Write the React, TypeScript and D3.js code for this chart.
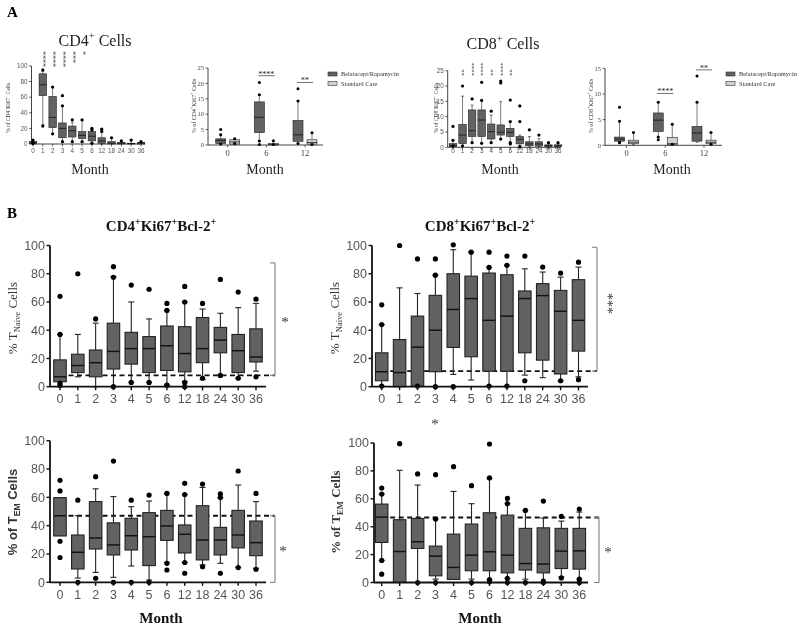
import React from "react";
import * as d3 from "d3";

const months = ["0", "1", "2", "3", "4", "5", "6", "12", "18", "24", "30", "36"];
const groupMonths = ["0", "6", "12"];
const groupNames = ["Belatacept/Rapamycin", "Standard Care"];

// each box: [whiskerLow, q1, median, q3, whiskerHigh]
const cd4Box = [
  [0, 0.5, 1.5, 3, 4], [25, 62, 76, 90, 93], [13, 21, 34, 61, 73], [3, 8, 20, 27, 49],
  [3, 9, 17, 23, 28], [3, 7, 11, 16, 30], [1, 4, 10, 16, 20], [0, 1, 4, 8, 16],
  [0, 0, 1, 3, 7], [0, 0, 1, 2, 4], [0, 0, 0.5, 1, 5], [0, 0, 1, 2, 3],
];
const cd4Dots = [[2, 5, 0.5], [95, 23], [73, 13], [62, 49, 3], [31, 3], [31, 3], [20, 18, 1], [19, 16], [8], [4], [5], [3]];
const cd4Stars = ["", "****", "****", "****", "***", "*", "", "", "", "", "", ""];

const cd4Bela = [[0.3, 0.5, 1.5, 2, 3.5], [1.3, 4, 9, 14, 16.3], [0.5, 1.2, 3.3, 8, 14.3]];
const cd4BelaDots = [[5, 3.3, 0.3], [20.3, 16.3, 1.3, 0.2], [18.3, 14.3, 0.5]];
const cd4Std = [[0.2, 0.3, 1, 1.7, 2], [0, 0, 0.2, 0.5, 1.4], [0.2, 0.3, 0.8, 1.7, 4]];
const cd4StdDots = [[2, 0.5], [1.4, 0.2], [4, 0.2]];
const cd4GroupSig = [["6", "****", 22.5], ["12", "**", 20.3]];

const cd8Box = [
  [0, 0.2, 0.6, 1.2, 2.3], [0.5, 1.2, 4, 7.5, 16.7], [1.5, 3.5, 5.4, 12.2, 13.8], [1.3, 3.5, 8.9, 12.2, 15.3],
  [1.5, 2.7, 5.1, 7.6, 10.5], [2.7, 4, 4.9, 7.3, 14.9], [1.4, 3.5, 4.9, 6.2, 8.4], [0.5, 1.1, 2.6, 3.5, 4],
  [0.2, 0.5, 1.1, 1.8, 3.5], [0.2, 0.4, 1.1, 1.8, 2.8], [0, 0.2, 0.5, 0.8, 1.2], [0, 0.2, 0.5, 0.8, 1.2],
];
const cd8Dots = [[6.8, 2.3, 0.5], [20, 0.5], [15.8, 1.5], [21.2, 15.3, 1.3], [11.8, 1.5], [21.6, 21, 2.7], [15.4, 8.4, 1.5, 1.1], [13.5, 8.4, 0.2], [5.7], [4], [1.5], [1.5]];
const cd8Stars = ["", "**", "****", "****", "**", "****", "**", "", "", "", "", ""];

const cd8Bela = [[0.5, 0.8, 1.2, 1.6, 4.7], [1.6, 2.7, 4.9, 6.3, 8.4], [0.6, 0.8, 2.4, 3.7, 8.4]];
const cd8BelaDots = [[7.4, 4.7, 0.6, 0.5], [8.4, 1.6, 1.1], [13.5, 8.4]];
const cd8Std = [[0.1, 0.3, 0.6, 1.0, 2.5], [0, 0.1, 0.3, 1.5, 4.1], [0.2, 0.3, 0.6, 1.0, 2.5]];
const cd8StdDots = [[2.5], [4.1, 0.2], [2.5, 0.2]];
const cd8GroupSig = [["6", "****", 10.1], ["12", "**", 14.7]];

const cd4NaiveBox = [
  [0, 3.5, 7, 19, 37], [7, 10, 15, 23, 37], [0, 7, 17, 26, 45], [0, 12.5, 25, 45, 78],
  [3, 16, 27, 38.5, 60], [3, 10, 27, 35.5, 48], [0.5, 11.5, 29, 43, 54], [3.5, 10.5, 23.5, 42.5, 60],
  [5, 17, 27, 49, 55], [8, 24, 33, 42, 52], [6, 10, 25.5, 37, 56], [11, 17.5, 21, 41, 59],
];
const cd4NaiveDots = [[64, 37, 1, 2.5], [80], [48], [85, 77.5, 0], [72, 3], [69, 3], [59, 54, 1, 1.2], [71, 60, 0, 3], [59, 6], [76, 8], [67, 6], [62, 7]];

const cd8NaiveBox = [
  [0.5, 4.2, 10.6, 24, 44], [0, 0, 10, 33.4, 70], [0.5, 0.5, 28, 50, 66], [0, 10.6, 40, 64.7, 79],
  [8.7, 27.8, 54.7, 80, 97], [4.7, 21.2, 62.4, 78.3, 95.3], [0.5, 11, 47, 80.5, 84.5], [0.5, 11, 50, 79.3, 86],
  [8.2, 24, 62.4, 67.8, 83.5], [6.4, 18.8, 64.5, 73, 81.2], [4.2, 9, 53.4, 68.2, 77.6], [7, 25.2, 47, 75.8, 84.7],
];
const cd8NaiveDots = [[58, 44, 0.5], [100], [90.5, 0.5], [90.5, 79, 0], [100.5, 0], [95.3], [95.3, 84.5, 0.5], [92.5, 86, 0.5], [92.5, 4.2], [84.7], [80.5, 4.2], [88.2, 5]];

const cd4EmBox = [
  [32.7, 32.7, 47, 59.8, 59.8], [3, 9.4, 21.2, 33.4, 47], [7, 23.5, 31.3, 57, 66], [3.5, 19.3, 26.4, 42, 60.5],
  [11.5, 22.8, 32.9, 45.2, 53.4], [1.6, 11.8, 32.2, 49.2, 57.4], [14, 29.6, 39.8, 50.8, 62.8], [14, 20.7, 33.9, 40.5, 62],
  [12.2, 15.8, 29.9, 54.1, 67], [13.4, 19.3, 29.9, 38.8, 59.8], [10.6, 24.3, 33.4, 50.8, 68.7], [9.9, 18.8, 28, 43.3, 57],
];
const cd4EmDots = [[72, 64.5, 29, 17.5], [58, 0], [74.6, 2.8], [85.6, 0], [58, 0], [61.6, 0], [62.8, 13.4, 8.7], [69.9, 62, 14, 6.4], [69.4, 11], [62.4, 59.8, 6.4], [78.6, 10.4], [62.8, 9.2]];

const cd8EmBox = [
  [15.8, 28.7, 46.9, 56.2, 63.4], [0, 0, 22.2, 45, 80.4], [0, 24.4, 29.2, 45.9, 69.9], [2.4, 4.8, 18.9, 26.1, 45.5],
  [2.2, 2.2, 10.8, 34.7, 65.3], [2.4, 8.4, 19.6, 41.9, 56.5], [2, 8.4, 22, 50, 74.6], [2.9, 6.9, 19.6, 48.3, 56.5],
  [2.4, 8.9, 13.6, 38.8, 51.7], [0, 6.9, 13.2, 39.2, 46.2], [4, 10, 22.5, 38.8, 44], [2.4, 9.6, 22.7, 38.8, 50.5],
];
const cd8EmDots = [[67.7, 63.4, 15.8, 6], [99.5], [77.8, 0], [77.3, 45.5, 0], [83], [69.4, 0], [99.3, 75, 0.5, 2], [60.3, 56.5, 0, 2.9], [51.7, 0], [58.4, 0, 1], [47.4, 3.3], [52.6, 2.4, 0]];

const ticks100 = [0, 20, 40, 60, 80, 100];
const ticks25 = [0, 5, 10, 15, 20, 25];
const ticks15 = [0, 5, 10, 15];

const serif = "'Liberation Serif', 'Times New Roman', serif";
const sans = "'Liberation Sans', Arial, sans-serif";
const DARK = "#626262";
const LIGHT = "#d2d2d2";

// parts: [text, kind] kind 0 = normal, 1 = superscript, 2 = subscript
function Rich({ parts, size }: any) {
  let level = 0;
  return (
    <>
      {parts.map((p: any, i: number) => {
        const [t, kind] = p;
        const target = kind === 1 ? -size * 0.42 : kind === 2 ? size * 0.25 : 0;
        const dy = target - level;
        level = target;
        return (
          <tspan key={i} dy={dy} fontSize={kind ? size * 0.66 : size}>
            {t}
          </tspan>
        );
      })}
    </>
  );
}

function Boxes({ xs, y, boxes, dots, w, fill, r, cap, sw }: any) {
  return (
    <g>
      {boxes.map((b: number[], i: number) => {
        const cx = xs[i];
        const [lo, q1, md, q3, hi] = b;
        return (
          <g key={i}>
            {hi > q3 && <line x1={cx} x2={cx} y1={y(hi)} y2={y(q3)} stroke="#222" strokeWidth={sw} />}
            {lo < q1 && <line x1={cx} x2={cx} y1={y(q1)} y2={y(lo)} stroke="#222" strokeWidth={sw} />}
            {cap > 0 && hi > q3 && <line x1={cx - cap / 2} x2={cx + cap / 2} y1={y(hi)} y2={y(hi)} stroke="#222" strokeWidth={sw} />}
            {cap > 0 && lo < q1 && <line x1={cx - cap / 2} x2={cx + cap / 2} y1={y(lo)} y2={y(lo)} stroke="#222" strokeWidth={sw} />}
            <rect x={cx - w / 2} y={y(q3)} width={w} height={Math.max(0.6, y(q1) - y(q3))} fill={fill} stroke="#222" strokeWidth={sw} />
            <line x1={cx - w / 2} x2={cx + w / 2} y1={y(md)} y2={y(md)} stroke="#111" strokeWidth={sw * 1.3} />
            {dots[i].map((v: number, j: number) => (
              <circle key={j} cx={cx} cy={y(v)} r={r} fill="#000" />
            ))}
          </g>
        );
      })}
    </g>
  );
}

function Axes({ x0, x1, y, yTicks, xs, xLabels, tickLen, fs, xfs, font, color, sw, xLabelY, xTickMarks }: any) {
  const y0 = y(0);
  const yTop = y(yTicks[yTicks.length - 1]);
  return (
    <g>
      <line x1={x0} x2={x0} y1={y0} y2={yTop} stroke="#111" strokeWidth={sw} />
      <line x1={x0} x2={x1} y1={y0} y2={y0} stroke="#111" strokeWidth={sw} />
      {yTicks.map((t: number) => (
        <g key={t}>
          <line x1={x0 - tickLen} x2={x0} y1={y(t)} y2={y(t)} stroke="#111" strokeWidth={sw * 0.8} />
          <text x={x0 - tickLen - 1.5} y={y(t)} dy="0.35em" textAnchor="end" fontSize={fs} fontFamily={font} fill={color}>
            {t}
          </text>
        </g>
      ))}
      {xs.map((x: number, i: number) => (
        <g key={i}>
          {xTickMarks && <line x1={x} x2={x} y1={y0} y2={y0 + tickLen} stroke="#111" strokeWidth={sw * 0.8} />}
          <text x={x} y={xLabelY} textAnchor="middle" fontSize={xfs || fs} fontFamily={font} fill={color}>
            {xLabels[i]}
          </text>
        </g>
      ))}
    </g>
  );
}

function Legend({ x, y }: any) {
  return (
    <g>
      {groupNames.map((n, i) => (
        <g key={n}>
          <rect x={x} y={y + i * 9.5} width={9} height={4} fill={i === 0 ? DARK : LIGHT} stroke="#333" strokeWidth={0.6} />
          <text x={x + 13} y={y + i * 9.5 + 4.2} fontSize={6.4} fontFamily={serif} fill="#333">{n}</text>
        </g>
      ))}
    </g>
  );
}

function GroupPanel({ x0, x1, range, y, ticks, bela, belaDots, std, stdDots, sig, label, legendX }: any) {
  const xp = d3.scalePoint().domain(groupMonths).range(range);
  const xsB = groupMonths.map((m) => (xp(m) as number) - 7);
  const xsS = groupMonths.map((m) => (xp(m) as number) + 7);
  return (
    <g>
      <Axes x0={x0} x1={x1} y={y} yTicks={ticks} xs={groupMonths.map((m) => xp(m))} xLabels={groupMonths}
        tickLen={2.5} fs={6.5} xfs={8.5} font={serif} color="#444" sw={0.8} xLabelY={155.5} xTickMarks={true} />
      <Boxes xs={xsB} y={y} boxes={bela} dots={belaDots} w={10} fill={DARK} r={1.5} cap={3} sw={0.6} />
      <Boxes xs={xsS} y={y} boxes={std} dots={stdDots} w={10} fill={LIGHT} r={1.5} cap={3} sw={0.6} />
      {sig.map((s: any, i: number) => {
        const cx = xp(s[0]) as number;
        return (
          <g key={i}>
            <line x1={cx - 8} x2={cx + 8} y1={y(s[2])} y2={y(s[2])} stroke="#333" strokeWidth={0.7} />
            <text x={cx} y={y(s[2]) + 1} textAnchor="middle" fontSize={8} fontFamily={serif} fill="#222">{s[1]}</text>
          </g>
        );
      })}
      <text transform={`translate(${x0 - 12},106) rotate(-90)`} textAnchor="middle" fontFamily={serif} fill="#333" fontSize={6}>
        <Rich size={6} parts={[["% of " + label, 0], ["+", 1], ["Ki67", 0], ["+", 1], [" Cells", 0]]} />
      </text>
      <Legend x={legendX} y={72} />
    </g>
  );
}

function MonthPanel({ x0, x1, range, y, ticks, boxes, dots, stars, label, starTop, starBottom, starFs, labelX }: any) {
  const xp = d3.scalePoint().domain(months).range(range);
  const xs = months.map((m) => xp(m) as number);
  return (
    <g>
      <Axes x0={x0} x1={x1} y={y} yTicks={ticks} xs={xs} xLabels={months}
        tickLen={2.5} fs={6.3} font={sans} color="#555" sw={0.8} xLabelY={152.5} xTickMarks={true} />
      <Boxes xs={xs} y={y} boxes={boxes} dots={dots} w={7.5} fill={DARK} r={1.6} cap={3} sw={0.6} />
      {stars.map((s: string, i: number) =>
        s ? (
          <text key={i} transform={`translate(${xs[i] - starFs * 0.32},${starTop !== undefined ? starTop : starBottom}) rotate(90)`}
            textAnchor={starTop !== undefined ? "start" : "end"} fontSize={starFs} fontFamily={serif} fill="#333">
            {s}
          </text>
        ) : null
      )}
      <text transform={`translate(${labelX},108) rotate(-90)`} textAnchor="middle" fontFamily={serif} fill="#333" fontSize={5.5}>
        <Rich size={5.5} parts={[["% of " + label, 0], ["+", 1], ["Ki67", 0], ["+", 1], [" Cells", 0]]} />
      </text>
    </g>
  );
}

function BPanel({ x0, x1, range, y, boxes, dots, dashV, dashX0, bracketX, bracketTop, labelY }: any) {
  const xp = d3.scalePoint().domain(months).range(range);
  const xs = months.map((m) => xp(m) as number);
  return (
    <g>
      <line x1={dashX0} x2={bracketX} y1={y(dashV)} y2={y(dashV)} stroke="#111" strokeWidth={1.8} strokeDasharray="5,3.5" />
      <Boxes xs={xs} y={y} boxes={boxes} dots={dots} w={12.5} fill={DARK} r={2.6} cap={6} sw={1.1} />
      <Axes x0={x0} x1={x1} y={y} yTicks={ticks100} xs={xs} xLabels={months}
        tickLen={3.5} fs={12.5} font={sans} color="#555" sw={1.8} xLabelY={labelY} xTickMarks={true} />
      <path d={`M${bracketX - 5},${y(bracketTop)} H${bracketX} V${y(dashV)} H${bracketX - 5}`} fill="none" stroke="#777" strokeWidth={1} />
    </g>
  );
}

export default function App() {
  const yA1 = d3.scaleLinear().domain([0, 100]).range([144, 66]);
  const yA2 = d3.scaleLinear().domain([0, 25]).range([145, 68]);
  const yA3 = d3.scaleLinear().domain([0, 25]).range([147.3, 70.7]);
  const yA4 = d3.scaleLinear().domain([0, 15]).range([145.3, 68.3]);
  const yB1 = d3.scaleLinear().domain([0, 100]).range([386.7, 245.5]);
  const yB3 = d3.scaleLinear().domain([0, 100]).range([582.3, 440.7]);
  const yB4 = d3.scaleLinear().domain([0, 100]).range([582.5, 443]);
  const starStyle = { fontSize: 15, fontFamily: serif, fill: "#333" };

  return (
    <svg width={800} height={627} style={{ position: "absolute", left: 0, top: 0, background: "#fff", willChange: "transform" }}>
      <rect width={800} height={627} fill="#fff" />
      <text x={7} y={17} fontSize={15} fontWeight="bold" fontFamily={serif}>A</text>
      <text x={7} y={218} fontSize={15} fontWeight="bold" fontFamily={serif}>B</text>

      <text x={95} y={46} textAnchor="middle" fontFamily={serif} fill="#222" fontSize={16}>
        <Rich size={16} parts={[["CD4", 0], ["+", 1], [" Cells", 0]]} />
      </text>
      <text x={503} y={49} textAnchor="middle" fontFamily={serif} fill="#222" fontSize={16}>
        <Rich size={16} parts={[["CD8", 0], ["+", 1], [" Cells", 0]]} />
      </text>

      <MonthPanel x0={31.5} x1={145} range={[33, 141]} y={yA1} ticks={ticks100} boxes={cd4Box} dots={cd4Dots}
        stars={cd4Stars} label="CD4" starTop={51} starFs={8} labelX={10} />
      <GroupPanel x0={208} x1={323} range={[227.7, 305]} y={yA2} ticks={ticks25} bela={cd4Bela} belaDots={cd4BelaDots}
        std={cd4Std} stdDots={cd4StdDots} sig={cd4GroupSig} label="CD4" legendX={328} />
      <MonthPanel x0={447.7} x1={561} range={[453, 558]} y={yA3} ticks={ticks25} boxes={cd8Box} dots={cd8Dots}
        stars={cd8Stars} label="CD8" starBottom={76} starFs={6.8} labelX={438} />
      <GroupPanel x0={605} x1={722} range={[626.5, 704]} y={yA4} ticks={ticks15} bela={cd8Bela} belaDots={cd8BelaDots}
        std={cd8Std} stdDots={cd8StdDots} sig={cd8GroupSig} label="CD8" legendX={726} />

      {["90", "265", "500", "672"].map((x) => (
        <text key={x} x={+x} y={174} textAnchor="middle" fontSize={14} fontFamily={serif} fill="#222">Month</text>
      ))}

      <text x={161} y={231} textAnchor="middle" fontWeight="bold" fontFamily={serif} fill="#111" fontSize={15}>
        <Rich size={15} parts={[["CD4", 0], ["+", 1], ["Ki67", 0], ["+", 1], ["Bcl-2", 0], ["+", 1]]} />
      </text>
      <text x={480} y={231} textAnchor="middle" fontWeight="bold" fontFamily={serif} fill="#111" fontSize={15}>
        <Rich size={15} parts={[["CD8", 0], ["+", 1], ["Ki67", 0], ["+", 1], ["Bcl-2", 0], ["+", 1]]} />
      </text>

      <BPanel x0={50} x1={266} range={[60, 256]} y={yB1} boxes={cd4NaiveBox} dots={cd4NaiveDots}
        dashV={8} dashX0={60} bracketX={275} bracketTop={87.7} labelY={403} />
      <BPanel x0={372} x1={588} range={[381.7, 578.5]} y={yB1} boxes={cd8NaiveBox} dots={cd8NaiveDots}
        dashV={11} dashX0={381.7} bracketX={597} bracketTop={98.8} labelY={403} />
      <BPanel x0={50} x1={266} range={[60, 256]} y={yB3} boxes={cd4EmBox} dots={cd4EmDots}
        dashV={47} dashX0={60} bracketX={275} bracketTop={0} labelY={599} />
      <BPanel x0={374} x1={588} range={[381.7, 579.3]} y={yB4} boxes={cd8EmBox} dots={cd8EmDots}
        dashV={46.6} dashX0={381.7} bracketX={599} bracketTop={0} labelY={599} />

      <text x={285} y={327} textAnchor="middle" {...starStyle}>*</text>
      <text transform="translate(603,293) rotate(90)" textAnchor="start" fontSize={14} fontFamily={serif} fill="#333">***</text>
      <text x={283} y={556} textAnchor="middle" {...starStyle}>*</text>
      <text x={608} y={557} textAnchor="middle" {...starStyle}>*</text>
      <text x={435} y={429} textAnchor="middle" {...starStyle}>*</text>

      <text transform="translate(17,318) rotate(-90)" textAnchor="middle" fontFamily={serif} fill="#333" fontSize={13}>
        <Rich size={13} parts={[["% T", 0], ["Naive", 2], ["  Cells", 0]]} />
      </text>
      <text transform="translate(339,318) rotate(-90)" textAnchor="middle" fontFamily={serif} fill="#333" fontSize={13}>
        <Rich size={13} parts={[["% T", 0], ["Naive", 2], ["  Cells", 0]]} />
      </text>
      <text transform="translate(17,512) rotate(-90)" textAnchor="middle" fontWeight="bold" fontFamily={sans} fill="#333" fontSize={13}>
        <Rich size={13} parts={[["% of T", 0], ["EM", 2], [" Cells", 0]]} />
      </text>
      <text transform="translate(340,512) rotate(-90)" textAnchor="middle" fontWeight="bold" fontFamily={serif} fill="#333" fontSize={13}>
        <Rich size={13} parts={[["% of T", 0], ["EM", 2], [" Cells", 0]]} />
      </text>
      <text x={161} y={623} textAnchor="middle" fontSize={15} fontWeight="bold" fontFamily={serif} fill="#111">Month</text>
      <text x={480} y={623} textAnchor="middle" fontSize={15} fontWeight="bold" fontFamily={serif} fill="#111">Month</text>
    </svg>
  );
}
